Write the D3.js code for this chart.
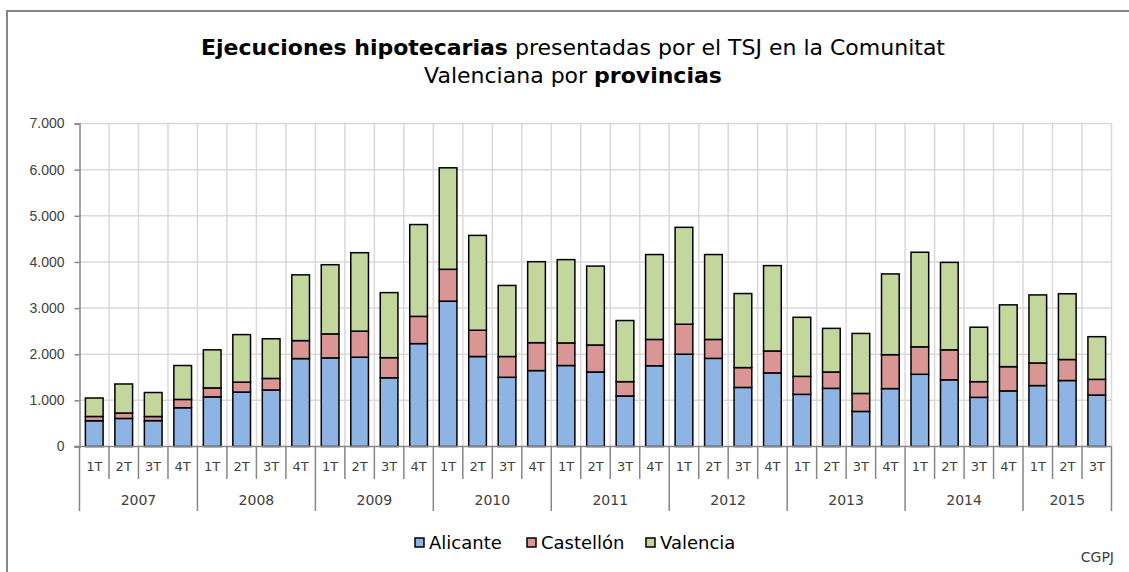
<!DOCTYPE html>
<html>
<head>
<meta charset="utf-8">
<script src="https://cdn.jsdelivr.net/npm/d3@7"></script>
<style>
  body { margin: 0; background: #fff; }
  svg { display: block; font-family: "DejaVu Sans", sans-serif; }
</style>
</head>
<body>
<svg id="chart" width="1129" height="572"></svg>
<script>
// quarters 2007 1T .. 2015 3T
var years = ["2007", "2008", "2009", "2010", "2011", "2012", "2013", "2014", "2015"];
var quarters = ["1T", "2T", "3T", "4T"];
var provinces = ["Alicante", "Castellón", "Valencia"];

var alicante = [558, 608, 560, 840, 1075, 1180, 1225, 1905, 1920, 1935, 1490, 2230,
  3150, 1950, 1500, 1645, 1755, 1615, 1095, 1750, 2000, 1910, 1280, 1595,
  1130, 1260, 760, 1255, 1565, 1445, 1065, 1205, 1320, 1430, 1115];
var castellon = [93, 117, 90, 180, 195, 215, 250, 390, 520, 565, 435, 590,
  690, 570, 450, 605, 490, 585, 310, 570, 650, 410, 430, 475,
  390, 355, 390, 735, 595, 650, 340, 525, 490, 455, 340];
var valencia = [400, 630, 520, 735, 825, 1030, 860, 1425, 1500, 1700, 1410, 1990,
  2200, 2055, 1540, 1755, 1805, 1710, 1325, 1840, 2100, 1840, 1605, 1850,
  1280, 945, 1300, 1750, 2050, 1895, 1180, 1340, 1475, 1425, 925];

var yTicks = [0, 1000, 2000, 3000, 4000, 5000, 6000, 7000];

var color = {
  "Alicante": "#8EB4E3",
  "Castellón": "#D99694",
  "Valencia": "#C3D69B"
};

// build the rows
var data = alicante.map(function(a, i) {
  return {
    key: years[Math.floor(i / 4)] + "-" + quarters[i % 4],
    year: years[Math.floor(i / 4)],
    q: quarters[i % 4],
    "Alicante": a,
    "Castellón": castellon[i],
    "Valencia": valencia[i]
  };
});

var svg = d3.select("#chart"),
    margin = {top: 123.5, left: 79.5, right: 1111.5, bottom: 446.5};

// frame
svg.append("path")
    .attr("d", "M7,572 V11 H1129")
    .attr("fill", "none")
    .attr("stroke", "#868686")
    .attr("stroke-width", 2);

// title
var title = svg.append("text")
    .attr("text-anchor", "middle")
    .attr("font-size", 22)
    .attr("fill", "#000");
var l1 = title.append("tspan").attr("x", 573).attr("y", 55);
l1.append("tspan").attr("font-weight", "bold").text("Ejecuciones hipotecarias");
l1.append("tspan").text(" presentadas por el TSJ en la Comunitat");
var l2 = title.append("tspan").attr("x", 573).attr("y", 83);
l2.append("tspan").text("Valenciana por ");
l2.append("tspan").attr("font-weight", "bold").text("provincias");

var xScale = d3.scaleBand()
    .domain(data.map(function(d) { return d.key; }))
    .range([margin.left, margin.right])
    .paddingInner(0.4)
    .paddingOuter(0.2);

var yScale = d3.scaleLinear()
    .domain([0, 7000])
    .range([margin.bottom, margin.top]);

var g = svg.append("g");

// grid
g.selectAll(".hgrid")
  .data(yTicks.slice(1))
  .enter().append("line")
    .attr("x1", margin.left).attr("x2", margin.right)
    .attr("y1", function(d) { return yScale(d); })
    .attr("y2", function(d) { return yScale(d); })
    .attr("stroke", "#d9d9d9").attr("stroke-width", 1.5);

var step = xScale.step();
var edges = d3.range(1, data.length + 1).map(function(i) { return margin.left + i * step; });
g.selectAll(".vgrid")
  .data(edges)
  .enter().append("line")
    .attr("x1", function(d) { return d; }).attr("x2", function(d) { return d; })
    .attr("y1", margin.top).attr("y2", margin.bottom)
    .attr("stroke", "#d9d9d9").attr("stroke-width", 1.5);

// y axis
var yAxis = d3.axisLeft(yScale)
    .tickValues(yTicks)
    .tickSize(5)
    .tickPadding(10)
    .tickFormat(function(d) { return d3.format(",")(d).replace(/,/g, "."); });

var ya = g.append("g")
    .attr("transform", "translate(" + margin.left + ",0)")
    .call(yAxis);
ya.select(".domain").attr("stroke", "#868686").attr("stroke-width", 1.5);
ya.selectAll(".tick line").attr("stroke", "#868686").attr("stroke-width", 1.5);
ya.selectAll(".tick text").attr("font-size", 14).attr("fill", "#404040");

// bars
var stack = d3.stack().keys(provinces);
var series = stack(data);

g.selectAll(".serie")
  .data(series)
  .enter().append("g")
    .attr("class", "serie")
    .attr("fill", function(d) { return color[d.key]; })
  .selectAll("rect")
    .data(function(d) { return d; })
  .enter().append("rect")
    .attr("x", function(d) { return xScale(d.data.key); })
    .attr("width", xScale.bandwidth())
    .attr("y", function(d) { return yScale(d[1]); })
    .attr("height", function(d) { return yScale(d[0]) - yScale(d[1]); })
    .attr("stroke", "#000")
    .attr("stroke-width", 1.5);

// x axis line
g.append("line")
    .attr("x1", margin.left - 5).attr("x2", margin.right)
    .attr("y1", margin.bottom).attr("y2", margin.bottom)
    .attr("stroke", "#868686").attr("stroke-width", 1.5);

// category separators (quarters short, years long)
var seps = d3.range(0, data.length + 1);
g.selectAll(".sep")
  .data(seps)
  .enter().append("line")
    .attr("x1", function(i) { return margin.left + i * step; })
    .attr("x2", function(i) { return margin.left + i * step; })
    .attr("y1", margin.bottom)
    .attr("y2", function(i) { return (i % 4 === 0 || i === data.length) ? 511 : 479; })
    .attr("stroke", "#868686").attr("stroke-width", 1.5);

g.selectAll(".qlabel")
  .data(data)
  .enter().append("text")
    .attr("x", function(d) { return xScale(d.key) + xScale.bandwidth() / 2; })
    .attr("y", 471)
    .attr("text-anchor", "middle")
    .attr("font-size", 13)
    .attr("fill", "#404040")
    .text(function(d) { return d.q; });

g.selectAll(".ylabel")
  .data(years)
  .enter().append("text")
    .attr("x", function(y, i) {
      var n = data.filter(function(d) { return d.year === y; }).length;
      return margin.left + (i * 4 + n / 2) * step;
    })
    .attr("y", 505)
    .attr("text-anchor", "middle")
    .attr("font-size", 14)
    .attr("fill", "#404040")
    .text(function(d) { return d; });

// legend
var legendX = [415, 527, 646];
var legend = svg.selectAll(".legend")
  .data(provinces)
  .enter().append("g")
    .attr("transform", function(d, i) { return "translate(" + legendX[i] + ",538)"; });
legend.append("rect")
    .attr("width", 9).attr("height", 9)
    .attr("fill", function(d) { return color[d]; })
    .attr("stroke", "#000").attr("stroke-width", 1.5);
legend.append("text")
    .attr("x", 14).attr("y", 11)
    .attr("font-size", 18)
    .attr("fill", "#000")
    .text(function(d) { return d; });

svg.append("text")
    .attr("x", 1114).attr("y", 562)
    .attr("text-anchor", "end")
    .attr("font-size", 14)
    .attr("fill", "#404040")
    .text("CGPJ");
</script>
</body>
</html>
